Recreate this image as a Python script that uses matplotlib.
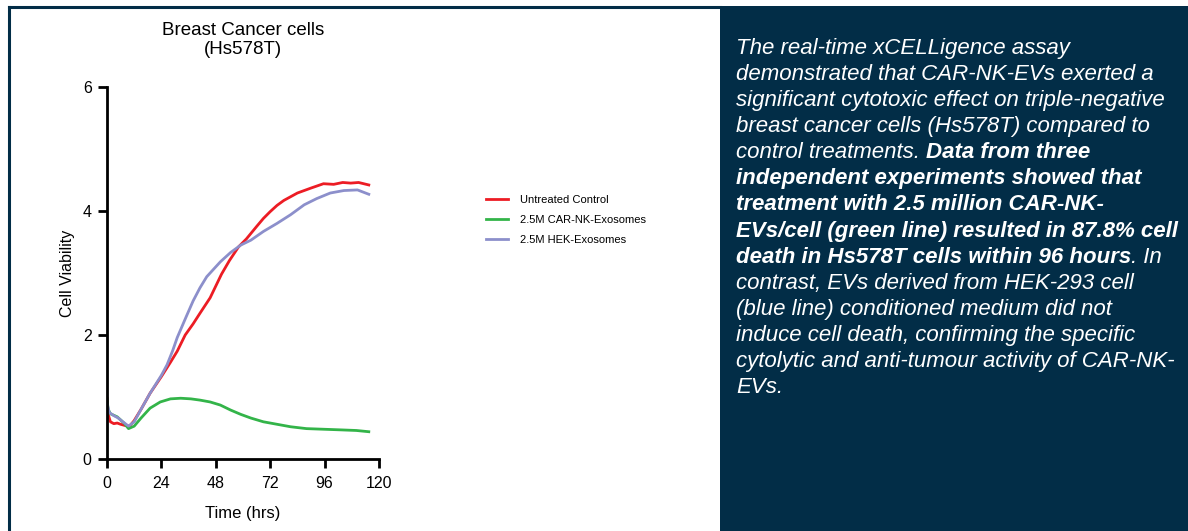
import matplotlib
matplotlib.use("Agg")
import matplotlib.pyplot as plt
from matplotlib.lines import Line2D
from matplotlib.patches import Rectangle

plt.rcParams['font.family'] = ['Liberation Sans', 'DejaVu Sans']

# Hs578T cell viability
hours_ctrl = [0, 0.5, 1.5, 3, 4.5, 6, 8, 10, 12, 15, 19, 24, 28, 31, 34.5, 38, 41, 45.5,
              50.5, 54, 58, 61.5, 66, 69, 72, 75, 78, 84, 90, 95.5, 100, 104, 107.5, 111, 115.5]
ctrl = [0.98, 0.72, 0.60, 0.57, 0.58, 0.56, 0.54, 0.53, 0.62, 0.80, 1.06, 1.33, 1.56,
        1.74, 2.00, 2.18, 2.35, 2.60, 2.98, 3.20, 3.42, 3.55, 3.75, 3.88, 3.99, 4.09, 4.17,
        4.29, 4.37, 4.44, 4.43, 4.46, 4.45, 4.46, 4.42]

hours_car = [0, 0.5, 1.5, 4.5, 7.5, 9.5, 12, 15, 19, 23.5, 28, 32.5, 37, 41, 45.5, 50,
             54.5, 59, 63.5, 69, 75, 81, 88, 95.5, 103, 110, 115.5]
car_nk = [0.97, 0.80, 0.73, 0.68, 0.58, 0.49, 0.53, 0.66, 0.82, 0.92, 0.97, 0.98, 0.97,
          0.95, 0.92, 0.87, 0.79, 0.72, 0.66, 0.60, 0.56, 0.52, 0.49, 0.48, 0.47, 0.46, 0.44]

hours_hek = [0, 1, 3, 5, 7, 9.5, 12, 15, 19, 24, 26.5, 29, 31, 35, 38, 41, 44, 47, 50,
             54.5, 59, 63.5, 69, 75, 81, 87, 92.5, 98.5, 104.5, 110.5, 115.5]
hek = [0.90, 0.75, 0.70, 0.66, 0.60, 0.53, 0.60, 0.80, 1.06, 1.35, 1.52, 1.75, 1.96,
       2.30, 2.55, 2.76, 2.94, 3.06, 3.18, 3.33, 3.45, 3.53, 3.67, 3.80, 3.94, 4.10, 4.20,
       4.29, 4.33, 4.34, 4.27]

labels = ["Untreated Control", "2.5M CAR-NK-Exosomes", "2.5M HEK-Exosomes"]
colors = ["#EC1C24", "#33B449", "#8C8FCB"]

# text panel: each line is a list of (text, bold) pieces
lines = [
    [("The real-time xCELLigence assay", False)],
    [("demonstrated that CAR-NK-EVs exerted a", False)],
    [("significant cytotoxic effect on triple-negative", False)],
    [("breast cancer cells (Hs578T) compared to", False)],
    [("control treatments. ", False), ("Data from three", True)],
    [("independent experiments showed that", True)],
    [("treatment with 2.5 million CAR-NK-", True)],
    [("EVs/cell (green line) resulted in 87.8% cell", True)],
    [("death in Hs578T cells within 96 hours", True), (". In", False)],
    [("contrast, EVs derived from HEK-293 cell", False)],
    [("(blue line) conditioned medium did not", False)],
    [("induce cell death, confirming the specific", False)],
    [("cytolytic and anti-tumour activity of CAR-NK-", False)],
    [("EVs.", False)],
]

W, H = 1188, 531
navy = "#022D47"
fig = plt.figure(figsize=(W / 100, H / 100), dpi=100)

# frame and dark panel
fig.patches.append(Rectangle((720 / W, 0), 468 / W, 1 - 6 / H, transform=fig.transFigure,
                             facecolor=navy, edgecolor="none"))
fig.lines.append(Line2D([9 / W, 720 / W], [1 - 7 / H, 1 - 7 / H], transform=fig.transFigure,
                        color=navy, lw=2.2))
fig.lines.append(Line2D([9 / W, 9 / W], [0, 1 - 7 / H], transform=fig.transFigure,
                        color=navy, lw=2.2))

ax = fig.add_axes([107 / W, 1 - 459 / H, 272 / W, 372 / H])
ax.plot(hours_ctrl, ctrl, color=colors[0], lw=2.0, label=labels[0])
ax.plot(hours_car, car_nk, color=colors[1], lw=2.0, label=labels[1])
ax.plot(hours_hek, hek, color=colors[2], lw=2.0, label=labels[2])

ax.set_xlim(0, 120)
ax.set_ylim(0, 6)
ax.set_xticks([0, 24, 48, 72, 96, 120])
ax.set_yticks([0, 2, 4, 6])
for s in ["top", "right"]:
    ax.spines[s].set_visible(False)
for s in ["left", "bottom"]:
    ax.spines[s].set_linewidth(2.0)
ax.tick_params(axis="both", direction="out", length=6.5, width=2.0, labelsize=11.5)
ax.tick_params(axis="x", pad=6)
ax.tick_params(axis="y", pad=4.5)
ax.set_xlabel("Time (hrs)", fontsize=12)
ax.set_ylabel("Cell Viability", fontsize=11.5)
ax.xaxis.set_label_coords(0.5, -0.126)
ax.yaxis.set_label_coords(-0.119, 0.5)
ax.text(0.5, 1 + 65 / 372, "Breast Cancer cells\n(Hs578T)", transform=ax.transAxes,
        ha="center", va="top", fontsize=13.5, linespacing=1.12)

ax.legend(loc="upper left", bbox_to_anchor=(486 / W, 1 - 195 / H),
          bbox_transform=fig.transFigure, frameon=False, fontsize=8,
          borderpad=0, borderaxespad=0, handlelength=2.0, handletextpad=1.1,
          labelspacing=0.9)

# description text, pieces placed one after another on each line
renderer = fig.canvas.get_renderer()
x0 = 736 / W
for i, pieces in enumerate(lines):
    y = 1 - (54.3 + 26.03 * i) / H
    x = x0
    for txt, bold in pieces:
        t = fig.text(x, y, txt, ha="left", va="baseline", color="white", fontsize=16,
                     style="italic", weight="bold" if bold else "normal")
        x = t.get_window_extent(renderer).x1 / fig.bbox.width

fig.savefig("out.png", dpi=100)
